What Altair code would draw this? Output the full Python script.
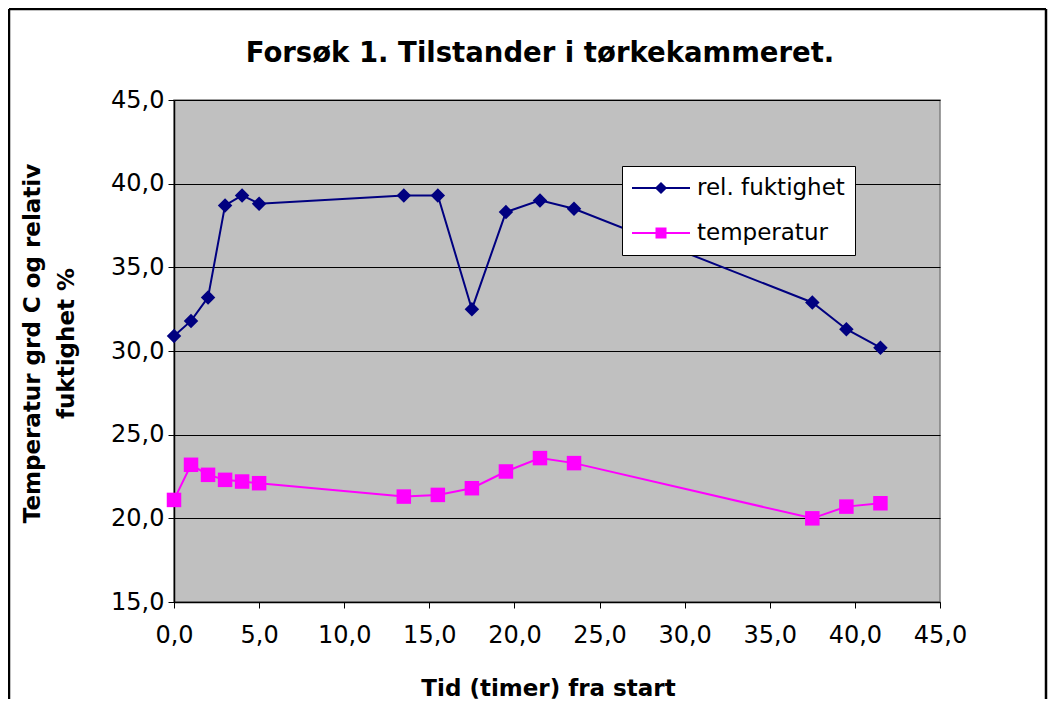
import altair as alt
import pandas as pd

hours = [0, 1, 2, 3, 4, 5, 13.5, 15.5, 17.5, 19.5, 21.5, 23.5, 37.5, 39.5, 41.5]
rel_fukt = [30.9, 31.8, 33.2, 38.7, 39.3, 38.8, 39.3, 39.3, 32.5, 38.3, 39.0, 38.5, 32.9, 31.3, 30.2]
temperatur = [21.1, 23.2, 22.6, 22.3, 22.2, 22.1, 21.3, 21.4, 21.8, 22.8, 23.6, 23.3, 20.0, 20.7, 20.9]
series = ["rel. fuktighet", "temperatur"]
colors = ["#000080", "#FF00FF"]
x_ticks = [0, 5, 10, 15, 20, 25, 30, 35, 40, 45]
y_ticks = [15, 20, 25, 30, 35, 40, 45]
title_text = "Forsøk 1. Tilstander i tørkekammeret."

rows = []
for h, v in zip(hours, rel_fukt):
    rows.append({"t": h, "v": v, "serie": series[0]})
for h, v in zip(hours, temperatur):
    rows.append({"t": h, "v": v, "serie": series[1]})
df = pd.DataFrame(rows)

FONT = "DejaVu Sans"
fmt = "replace(format(datum.value, '.1f'), '.', ',')"

x = alt.X("t:Q", scale=alt.Scale(domain=[0, 45], nice=False),
          axis=alt.Axis(values=x_ticks, labelExpr=fmt, grid=False, title="Tid (timer) fra start",
                        labelFontSize=24, labelFont=FONT, labelColor="black", labelPadding=15,
                        labelFlush=False, labelOverlap=False,
                        tickSize=6, tickColor="black", domainColor="black", domainWidth=1.5,
                        titleFont=FONT, titleFontSize=23, titleFontWeight="bold", titleColor="black",
                        titleX=374, titleY=86, titleBaseline="middle", titleAlign="center"))
y = alt.Y("v:Q", scale=alt.Scale(domain=[15, 45], nice=False),
          axis=alt.Axis(values=y_ticks, labelExpr=fmt, grid=True, gridColor="black", gridWidth=1,
                        title=["Temperatur grd C og relativ", "fuktighet %"],
                        labelFontSize=24, labelFont=FONT, labelColor="black", labelPadding=4,
                        labelFlush=False, labelOverlap=False,
                        tickSize=6, tickColor="black", domainColor="black", domainWidth=1.5,
                        titleFont=FONT, titleFontSize=23, titleFontWeight="bold", titleColor="black",
                        titleAngle=-90, titleX=-153, titleY=243, titleBaseline="top",
                        titleAlign="center", titleLineHeight=34))

line = alt.Chart(df).mark_line(strokeWidth=2).encode(
    x=x, y=y, color=alt.Color("serie:N", scale=alt.Scale(domain=series, range=colors), legend=None),
    detail="serie:N", order="t:Q")

pts = alt.Chart(df).mark_point(filled=True, opacity=1, size=210).encode(
    x=x, y=y, color=alt.Color("serie:N", scale=alt.Scale(domain=series, range=colors), legend=None),
    shape=alt.Shape("serie:N", scale=alt.Scale(domain=series, range=["diamond", "square"]), legend=None))

leg = alt.Legend(title=None, orient="none", legendX=448, legendY=66, padding=10,
                 fillColor="white", strokeColor="black", labelFont=FONT, labelFontSize=23,
                 labelColor="black", symbolSize=3364, symbolStrokeWidth=0, symbolOpacity=1,
                 clipHeight=24, rowPadding=21, labelOffset=7, symbolOffset=0)
paths = ["M-1,-0.035L1,-0.035L1,0.035L-1,0.035ZM0,-0.21L0.21,0L0,0.21L-0.21,0Z",
         "M-1,-0.035L1,-0.035L1,0.035L-1,0.035ZM-0.19,-0.19L0.19,-0.19L0.19,0.19L-0.19,0.19Z"]
legend_layer = alt.Chart(df).transform_filter("false").mark_point(filled=True, opacity=1).encode(
    x=x, y=y,
    color=alt.Color("serie:N", scale=alt.Scale(domain=series, range=colors), legend=leg),
    shape=alt.Shape("serie:N", scale=alt.Scale(domain=series, range=paths), legend=leg))

frame_df = pd.DataFrame({"k": [0]})
fl = alt.Chart(frame_df).mark_rule(color="black", strokeWidth=2.5).encode(
    x=alt.value(-165), y=alt.value(-91), y2=alt.value(599))
ft = alt.Chart(frame_df).mark_rule(color="black", strokeWidth=2.5).encode(
    x=alt.value(-165), x2=alt.value(872), y=alt.value(-91))
fr = alt.Chart(frame_df).mark_rule(color="black", strokeWidth=2.5).encode(
    x=alt.value(872), y=alt.value(-91), y2=alt.value(599))

title = alt.Chart(frame_df).mark_text(font=FONT, fontSize=27.5, fontWeight="bold", color="black",
                                      align="center", baseline="alphabetic").encode(
    x=alt.value(366), y=alt.value(-38), text=alt.value(title_text))

chart = alt.layer(line, pts, legend_layer, fl, ft, fr, title).resolve_scale(
    shape="independent", color="independent").properties(
    width=766, height=502,
    autosize=alt.AutoSizeParams(type="none"),
    padding={"left": 166, "top": 92, "right": 108, "bottom": 100},
    background="white",
).configure_view(fill="#C0C0C0", stroke="#808080", strokeWidth=1.5)

chart.save("out.html", embed_options={"renderer": "svg", "actions": False})
